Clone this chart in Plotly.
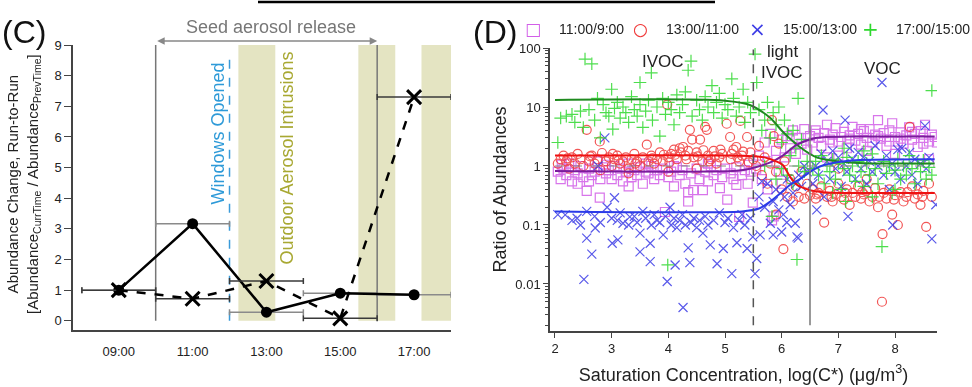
import plotly.graph_objects as go

FONT = "Liberation Sans, Arial, sans-serif"

# ---------------- Panel C data ----------------
times = [9, 11, 13, 15, 17]
time_labels = ["09:00", "11:00", "13:00", "15:00", "17:00"]
solid_change = [1.0, 3.17, 0.28, 0.90, 0.85]
dashed_change = [1.0, 0.72, 1.30, 0.08, 7.30]
run_halfwidth = [1, 1, 1, 1, 1]
intrusion_windows = [(12.24, 13.24), (15.49, 16.49), (17.2, 18.0)]
seed_release = (10, 16)
windows_opened = 12

# ---------------- Panel D data ----------------
pts_11_9 = [(2.05,0.8),(2.1,0.6),(2.15,0.9),(2.2,0.7),(2.25,1.1),(2.3,0.55),(2.35,0.85),(2.4,0.75),(2.45,1.0),(2.5,0.65),
    (2.56,0.38),(2.6,0.9),(2.65,0.7),(2.7,0.8),(2.75,1.2),(2.79,0.29),(2.8,0.6),(2.85,0.95),(2.9,0.75),(2.95,0.85),
    (3.0,0.6),(3.05,1.0),(3.1,0.7),(3.15,0.9),(3.2,0.55),(3.25,0.8),(3.3,1.1),(3.35,0.65),(3.4,0.85),(3.45,0.7),
    (3.5,0.95),(3.55,0.5),(3.6,0.8),(3.65,0.75),(3.7,1.0),(3.75,0.6),(3.8,0.85),(3.85,0.7),(3.9,0.9),(3.94,0.166),
    (4.0,0.65),(4.05,0.8),(4.1,0.45),(4.15,0.95),(4.2,0.7),(4.25,0.85),(4.3,0.5),(4.35,0.25),(4.35,0.36),(4.4,0.75),
    (4.44,0.39),(4.5,0.9),(4.55,0.6),(4.61,0.39),(4.65,0.8),(4.7,0.55),(4.75,1.0),(4.8,0.7),(4.85,0.85),(4.91,0.42),
    (4.95,0.65),(5.0,0.9),(5.04,0.27),(5.1,0.75),(5.15,0.6),(5.2,0.95),(5.25,0.137),(5.3,0.7),(5.35,0.85),(5.4,0.5),
    (5.45,0.8),(5.49,0.24),
    (5.55,0.9),(5.6,1.5),(5.65,0.6),(5.7,2.5),(5.75,1.2),(5.8,3.5),(5.83,0.12),(5.86,0.14),(5.9,1.8),(5.95,0.8),
    (6.0,2.8),(6.05,1.4),(6.1,3.2),(6.15,2.0),(6.2,4.0),(6.25,1.6),(6.3,3.0),(6.35,2.4),(6.4,4.2),(6.45,1.9),(5.75,0.4),(6.0,0.5),
    (6.5,3.2),(6.55,2.5),(6.6,4.0),(6.65,3.0),(6.7,2.2),(6.75,3.6),(6.8,5.0),(6.85,2.8),(6.9,3.4),(6.95,4.4),
    (7.0,2.6),(7.05,3.1),(7.1,3.8),(7.15,2.0),(7.2,3.3),(7.25,4.6),(7.3,2.7),(7.35,3.5),(7.4,2.3),(7.45,3.9),
    (7.5,3.0),(7.55,4.2),(7.6,2.5),(7.65,3.4),(7.7,6.0),(7.75,2.9),(7.8,3.6),(7.85,2.2),(7.9,4.0),(7.95,5.3),
    (8.0,3.1),(8.05,2.6),(8.1,3.7),(8.15,2.4),(8.2,3.3),(8.25,4.5),(8.3,2.8),(8.35,3.5),(8.4,2.1),(8.45,3.9),
    (8.5,3.0),(8.53,5.0),(8.6,2.6),(8.65,3.4),(8.74,2.5),(7.0,1.5),(7.5,1.8),(8.0,1.6),(6.8,1.4),(8.6,1.3),
    (2.12,1.05),(2.4,0.5),(2.9,1.05),(3.3,0.45),(3.6,1.1),(4.1,1.0),(4.7,1.1),(5.2,0.48),(5.42,1.05),(2.6,0.55),
    (6.6,3.5),(6.9,2.5),(7.2,2.9),(7.4,4.2),(7.7,3.2),(7.9,2.6),(8.1,2.9),(8.3,3.8),(8.5,2.4),(8.7,3.1)]

pts_13_11 = [(2.05,1.1),(2.1,1.3),(2.15,1.5),(2.2,1.2),(2.25,0.9),(2.3,1.4),(2.35,1.1),(2.4,1.6),(2.45,1.3),(2.5,1.0),
    (2.56,4.1),(2.6,1.2),(2.65,1.5),(2.7,1.1),(2.75,1.3),(2.79,2.6),(2.83,1.66),(2.9,1.2),(2.95,1.4),(3.0,1.0),
    (3.05,1.3),(3.1,1.5),(3.15,1.1),(3.2,1.2),(3.25,1.4),(3.3,0.9),(3.35,1.3),(3.4,1.6),(3.45,1.2),(3.5,1.0),
    (3.55,1.4),(3.62,2.3),(3.65,1.2),(3.7,1.5),(3.75,1.1),(3.8,1.3),(3.85,1.7),(3.9,1.2),(3.98,11),(4.0,1.4),
    (4.05,1.6),(4.1,1.9),(4.15,1.3),(4.2,2.0),(4.26,2.1),(4.3,1.5),(4.35,1.8),(4.38,4.1),(4.42,2.8),(4.45,1.4),
    (4.5,1.7),(4.56,2.8),(4.6,1.2),(4.65,4.6),(4.68,4.1),(4.7,1.5),(4.75,1.3),(4.8,1.8),(4.85,1.1),(4.9,1.4),
    (4.95,1.6),(5.03,5.2),(5.09,3.1),(5.1,1.3),(5.15,1.9),(5.2,2.1),(5.25,1.2),(5.27,5.8),(5.3,1.5),(5.39,3.1),
    (5.45,1.7),(5.5,1.3),(3.3,0.75),(4.0,0.8),(4.5,0.9),(2.8,0.85),
    (2.22,1.35),(2.62,1.45),(3.12,1.25),(3.42,1.1),(3.72,1.35),(4.12,1.55),(4.22,1.7),(4.32,1.3),(4.52,1.45),(4.62,1.85),
    (4.72,1.2),(4.82,1.45),(4.92,1.9),(5.12,1.6),(5.22,1.4),(5.32,1.75),(5.42,1.15),(4.02,1.15),(3.92,1.55),(3.02,1.6),
    (5.55,1.0),(5.6,2.2),(5.65,0.7),(5.7,1.4),(5.75,0.5),(5.8,1.1),(5.83,6.0),(5.86,3.2),(5.9,0.15),(5.9,0.8),
    (5.95,2.4),(6.0,0.4),(6.03,0.039),(6.05,1.2),(6.1,0.3),(6.15,0.6),(6.2,0.25),(6.25,0.45),(6.3,0.3),(6.35,0.8),
    (6.4,0.28),(6.45,0.5),
    (6.5,0.32),(6.55,0.4),(6.6,0.28),(6.65,0.35),(6.7,0.45),(6.75,0.11),(6.8,0.3),(6.85,0.38),(6.9,0.25),(6.95,0.33),
    (7.0,0.5),(7.05,0.3),(7.1,0.27),(7.15,0.4),(7.2,0.22),(7.25,0.35),(7.3,0.3),(7.35,0.45),(7.4,0.28),(7.45,0.33),
    (7.5,0.38),(7.55,0.25),(7.6,0.3),(7.65,0.42),(7.7,0.2),(7.77,0.005),(7.78,0.07),(7.8,0.35),(7.85,0.28),(7.9,0.4),
    (7.95,0.15),(8.0,0.32),(8.05,0.1),(8.1,0.36),(8.15,0.25),(8.2,0.3),(8.26,4.6),(8.3,0.45),(8.35,0.28),(8.4,0.33),
    (8.45,0.22),(8.5,0.38),(8.55,0.093),(8.6,0.5),(8.65,0.3),(7.0,0.9),(7.5,0.6),
    (6.62,0.33),(6.88,0.3),(7.12,0.35),(7.42,0.36),(7.72,0.3),(7.98,0.27),(8.22,0.36),(8.48,0.3)]

pts_15_13 = [(2.18,0.148),(2.39,0.13),(2.56,0.17),(2.56,0.06),(2.65,0.032),(2.51,0.012),(2.71,0.089),(2.92,0.2),
    (3.01,0.049),(3.11,0.056),(3.2,0.107),(3.32,0.137),(3.5,0.073),(3.5,0.035),(3.68,0.049),(3.68,0.024),(3.8,0.12),
    (3.91,0.068),(3.98,0.011),(4.03,0.2),(4.12,0.021),(4.26,0.004),(4.35,0.041),(4.38,0.023),(4.61,0.073),(4.74,0.046),
    (4.86,0.022),(4.97,0.04),(5.12,0.015),(5.21,0.05),(5.39,0.04),(5.53,0.015),(5.56,0.027),(5.49,0.063),
    (2.05,0.15),(2.3,0.12),(2.45,0.1),(2.7,0.14),(2.8,0.11),(3.0,0.13),(3.05,0.29),(3.1,0.12),(3.15,0.16),(3.3,0.1),
    (3.4,0.14),(3.45,0.11),(3.55,0.17),(3.6,0.13),(3.7,0.1),(3.75,0.15),(3.85,0.11),(3.95,0.14),(4.05,0.1),(4.1,0.13),
    (4.15,0.09),(4.2,0.12),(4.25,0.15),(4.3,0.1),(4.4,0.11),(4.45,0.13),(4.5,0.09),(4.55,0.12),(4.65,0.14),(4.7,0.1),
    (4.8,0.12),(4.9,0.16),(5.0,0.11),(5.05,0.13),(5.15,0.09),(5.25,0.12),(5.3,0.15),(5.35,0.1),(5.45,0.13),(2.88,3.0),
    (2.76,1.0),
    (5.6,0.3),(5.7,0.2),(5.75,0.5),(5.8,0.107),(5.85,0.25),(5.9,0.4),(5.95,0.18),(6.0,0.076),(6.05,0.3),(6.09,0.11),
    (6.1,0.6),(6.15,0.22),(6.2,0.35),(6.24,0.107),(6.25,0.5),(6.27,0.063),(6.29,0.06),(6.35,0.45),(6.45,0.8),(5.65,0.55),
    (6.03,0.15),(5.62,0.068),(5.85,0.068),
    (6.55,0.5),(6.6,1.0),(6.65,0.7),(6.7,1.6),(6.73,8.9),(6.75,0.3),(6.8,1.2),(6.85,0.6),(6.9,1.8),(6.95,0.9),
    (7.0,1.4),(7.05,0.45),(7.1,1.1),(7.12,6.0),(7.15,0.8),(7.2,2.0),(7.25,1.3),(7.3,0.6),(7.35,1.7),(7.4,0.9),
    (7.44,1.4),(7.5,0.5),(7.55,1.2),(7.6,0.8),(7.65,2.2),(7.7,1.0),(7.77,26),(7.8,0.7),(7.85,1.5),(7.9,0.4),
    (7.95,1.1),(8.0,0.8),(8.05,1.9),(8.1,0.6),(8.12,2.0),(8.2,1.0),(8.26,1.7),(8.3,0.7),(8.35,1.3),(8.4,0.5),
    (8.45,1.1),(8.53,4.8),(8.55,0.9),(8.6,1.4),(8.65,0.058),(8.72,0.22),(7.17,0.14),(7.96,0.1),(6.62,0.18),(6.3,0.7),(6.4,1.0)]

pts_17_15 = [(2.05,2.5),(2.1,6.5),(2.2,7.0),(2.3,7.5),(2.35,5.5),(2.45,8.5),(2.5,4.5),(2.53,65),(2.6,9.0),(2.65,54),
    (2.7,6.0),(2.75,14),(2.8,3.0),(2.85,11),(2.9,8.0),(2.95,7),(3.0,20),(3.02,4.2),(3.05,9.5),(3.1,12),
    (3.15,6.5),(3.2,10),(3.25,8),(3.3,5.5),(3.35,15),(3.4,9),(3.45,7),(3.5,26),(3.5,11),(3.55,4.5),
    (3.6,8.5),(3.65,13),(3.7,38),(3.72,6),(3.8,10),(3.85,3.2),(3.9,14),(3.95,7.5),(4.0,12),(4.05,9),
    (4.1,5),(4.15,16),(4.2,8),(4.25,11),(4.3,18),(4.35,42),(4.4,60),(4.42,7),(4.5,13),(4.55,9),
    (4.6,6),(4.65,15),(4.7,10),(4.77,23),(4.8,8),(4.85,12),(4.9,17),(4.95,6.5),(5.0,11),(5.05,9),
    (5.12,30),(5.15,14),(5.2,7),(5.25,10),(5.32,20),(5.35,5.5),(5.4,12),(5.45,8),(5.56,26),(5.53,79),
    (5.6,9),(5.65,4),(5.7,6),(5.75,12),(5.8,3),(5.85,8),(5.9,5),(5.95,10),(6.0,2.5),(6.05,6),
    (6.1,3.5),(6.15,1.5),(6.2,4),(6.25,2),(6.29,14),(6.3,1.0),(6.35,2.8),(6.4,0.8),(6.45,1.2),(5.83,0.14),
    (6.27,0.026),(5.9,0.6),(6.0,0.9),(6.1,0.7),(5.7,1.0),(6.2,0.5),(3.99,0.021),
    (6.55,0.9),(6.6,1.2),(6.65,0.7),(6.7,1.5),(6.75,0.5),(6.8,1.0),(6.85,0.8),(6.9,1.3),(6.95,0.6),(7.0,1.1),
    (7.05,0.4),(7.1,0.9),(7.13,0.25),(7.15,1.4),(7.2,0.7),(7.25,1.0),(7.3,0.55),(7.35,1.2),(7.4,0.8),(7.45,0.45),
    (7.5,1.1),(7.55,0.7),(7.6,1.6),(7.65,0.9),(7.7,0.5),(7.77,0.043),(7.8,1.2),(7.85,0.75),(7.9,1.0),(7.95,0.35),
    (8.0,0.85),(8.05,1.3),(8.1,0.6),(8.15,1.0),(8.2,0.7),(8.25,1.5),(8.3,0.9),(8.35,0.5),(8.4,1.1),(8.45,0.8),
    (8.5,1.25),(8.55,0.6),(8.6,0.95),(8.65,19),(8.65,0.7),(7.1,2.0),(7.45,1.8),(8.0,0.4),(6.9,0.35),(7.6,0.3)]

# fitted curves
fit_11_9_x = [2.0, 5.2, 5.44, 5.8, 6.02, 6.27, 6.62, 7.2, 8.7]
fit_11_9_y = [0.82, 0.83, 0.9, 1.15, 1.5, 2.3, 3.0, 3.15, 3.15]
fit_13_11_x = [2.0, 5.4, 5.7, 5.9, 6.02, 6.15, 6.27, 6.5, 6.73, 8.7]
fit_13_11_y = [1.5, 1.48, 1.4, 1.2, 1.04, 0.65, 0.48, 0.39, 0.36, 0.35]
fit_15_13_x = [2.0, 5.3, 5.6, 5.8, 6.0, 6.15, 6.32, 6.62, 6.9, 7.3, 8.7]
fit_15_13_y = [0.17, 0.17, 0.19, 0.25, 0.36, 0.48, 0.6, 0.93, 1.12, 1.25, 1.3]
fit_17_15_x = [2.0, 5.0, 5.44, 5.8, 6.02, 6.32, 6.62, 7.2, 8.7]
fit_17_15_y = [13.2, 12.8, 10.8, 6.5, 3.8, 2.1, 1.4, 1.15, 1.1]

series_names = ["11:00/9:00", "13:00/11:00", "15:00/13:00", "17:00/15:00"]
legend_glyphs = ["□", "○", "×", "+"]
ivoc_boundary = 5.5
voc_boundary = 6.5

fig = go.Figure()

# ---------- Panel C ----------
AXC = dict(xaxis="x", yaxis="y")
fig.add_trace(go.Scatter(x=times, y=solid_change, mode="lines+markers", showlegend=False,
                         line=dict(color="black", width=2.5),
                         marker=dict(symbol="circle", size=11, color="black"),
                         error_x=dict(type="data", array=run_halfwidth, color="#8a8a8a", thickness=1.5, width=3),
                         **AXC))
fig.add_trace(go.Scatter(x=times, y=dashed_change, mode="lines+markers", showlegend=False,
                         line=dict(color="black", width=2.5, dash="dash"),
                         marker=dict(symbol="x-thin", size=14, line=dict(width=3, color="black")),
                         error_x=dict(type="data", array=run_halfwidth, color="#3a3a3a", thickness=1.5, width=3),
                         **AXC))

shapes = []
for x0, x1 in intrusion_windows:
    shapes.append(dict(type="rect", xref="x", yref="y", x0=x0, x1=x1, y0=0, y1=9,
                       fillcolor="#e4e4c2", line=dict(width=0), layer="below"))
for xv in seed_release:
    shapes.append(dict(type="line", xref="x", yref="y", x0=xv, x1=xv, y0=0, y1=9,
                       line=dict(color="#777777", width=1.5), layer="below"))
shapes.append(dict(type="line", xref="x", yref="y", x0=windows_opened, x1=windows_opened, y0=0, y1=8.67,
                   line=dict(color="#3a9ad9", width=1.5, dash="dash"), layer="below"))
# top black rule
shapes.append(dict(type="line", xref="paper", yref="paper", x0=258/972, x1=715/972, y0=1-2/387, y1=1-2/387,
                   line=dict(color="black", width=2.5)))

# ---------- Panel D ----------
AXD = dict(xaxis="x2", yaxis="y2")
styles = [
    dict(symbol="square-open", color="#d25ee8"),
    dict(symbol="circle-open", color="#f03838"),
    dict(symbol="x-thin-open", color="#3c3ce6"),
    dict(symbol="cross-thin-open", color="#2ed82e"),
]
for name, pts, st in zip(series_names, [pts_11_9, pts_13_11, pts_15_13, pts_17_15], styles):
    fig.add_trace(go.Scatter(x=[p[0] for p in pts], y=[p[1] for p in pts], mode="markers", name=name,
                             showlegend=False,
                             marker=dict(symbol=st["symbol"], size=9, color=st["color"],
                                         line=dict(width=1.2, color=st["color"])),
                             opacity=0.85, **AXD))

fig.add_trace(go.Scatter(x=[2.0, 8.7], y=[1, 1], mode="lines", showlegend=False,
                         line=dict(color="#888888", width=1.2, dash="dash"), **AXD))
fits = [(fit_17_15_x, fit_17_15_y, "#1f8a1f"), (fit_11_9_x, fit_11_9_y, "#7a1c9c"),
        (fit_13_11_x, fit_13_11_y, "#ee1111"), (fit_15_13_x, fit_15_13_y, "#2a3ae8")]
for fx, fy, c in fits:
    fig.add_trace(go.Scatter(x=fx, y=fy, mode="lines", showlegend=False,
                             line=dict(color=c, width=2, shape="spline", smoothing=0.8), **AXD))

shapes.append(dict(type="line", xref="x2", yref="y2 domain", x0=ivoc_boundary, x1=ivoc_boundary, y0=0.02, y1=0.995,
                   line=dict(color="#555555", width=1.5, dash="dash")))
shapes.append(dict(type="line", xref="x2", yref="y2 domain", x0=voc_boundary, x1=voc_boundary, y0=0.02, y1=1.0,
                   line=dict(color="#777777", width=1.5)))

axline = dict(showline=True, linecolor="#444444", linewidth=1.5, showgrid=False, zeroline=False,
              automargin=False,
              tickfont=dict(family=FONT, size=13, color="#222222"), tickcolor="#444444")

fig.update_layout(
    width=972, height=387, margin=dict(l=0, r=0, t=0, b=0, autoexpand=False),
    paper_bgcolor="white", plot_bgcolor="white",
    font=dict(family=FONT, color="#222222"),
    shapes=shapes, showlegend=False,
    xaxis=dict(domain=[73/972, 451/972], range=[7.76, 18.0], tickvals=times, ticktext=time_labels,
               ticks="", ticklabelstandoff=9, anchor="y", **axline),
    yaxis=dict(domain=[1-330/387, 1-45/387], range=[-0.3, 9], dtick=1, ticks="outside", ticklen=7,
               anchor="x", **axline),
    xaxis2=dict(domain=[550/972, 937/972], range=[1.912, 8.741], dtick=1, ticks="outside", ticklen=5,
                anchor="y2",
                title=dict(text="Saturation Concentration, log(C*) (μg/m<sup>3</sup>)",
                           font=dict(family=FONT, size=18, color="#222222"), standoff=13),
                **axline),
    yaxis2=dict(domain=[1-331/387, 1-48/387], type="log", range=[-2.797, 2.0], dtick=1,
                ticks="outside", ticklen=5, anchor="x2",
                minor=dict(ticks="outside", ticklen=3, tickcolor="#444444", dtick="D1"),
                title=dict(text="Ratio of Abundances", font=dict(family=FONT, size=18, color="#222222"), standoff=4),
                **axline),
)

ann = []
ann.append(dict(x=seed_release[1], y=1-41/387, ax=seed_release[0], ay=0, xref="x", yref="paper", axref="x",
                text="", showarrow=True, arrowhead=2, arrowside="end+start", arrowsize=1, arrowwidth=1.5,
                arrowcolor="#888888"))
ann.append(dict(x=271/972, y=1-27/387, xref="paper", yref="paper", xanchor="center", yanchor="middle",
                text="Seed aerosol release", showarrow=False,
                font=dict(family=FONT, size=18, color="#777777")))
ann.append(dict(x=11.68, y=6.1, xref="x", yref="y", xanchor="center", yanchor="middle",
                text="Windows Opened", textangle=-90, showarrow=False,
                font=dict(family=FONT, size=18, color="#2e9ad8")))
ann.append(dict(x=13.57, y=5.31, xref="x", yref="y", xanchor="center", yanchor="middle",
                text="Outdoor Aerosol Intrusions", textangle=-90, showarrow=False,
                font=dict(family=FONT, size=18, color="#a8a832")))
ann.append(dict(x=0.0, y=1-32/387, xref="paper", yref="paper", xanchor="left", yanchor="middle",
                text="(C)", showarrow=False, font=dict(family=FONT, size=32, color="#111111")))
ann.append(dict(x=471/972, y=1-32/387, xref="paper", yref="paper", xanchor="left", yanchor="middle",
                text="(D)", showarrow=False, font=dict(family=FONT, size=32, color="#111111")))
ann.append(dict(x=23/972, y=1-184/387, xref="paper", yref="paper", xanchor="center", yanchor="middle",
                textangle=-90, showarrow=False,
                text="Abundance Change, Run-to-Run<br>[Abundance<sub>CurrTime</sub> / Abundance<sub>PrevTime</sub>]",
                font=dict(family=FONT, size=15, color="#222222")))
for txt, px, py in [("IVOC", 663, 62), ("light", 782, 52), ("IVOC", 782, 73), ("VOC", 882, 68)]:
    ann.append(dict(x=px/972, y=1-py/387, xref="paper", yref="paper", xanchor="center", yanchor="middle",
                    text=txt, showarrow=False, font=dict(family=FONT, size=17, color="#222222")))

# legend row drawn as text (symbol glyph + series name)
legend_sym_px = [533, 640, 757, 870]
glyph_sizes = [17, 17, 20, 20]
for name, glyph, st, sx, gs in zip(series_names, legend_glyphs, styles, legend_sym_px, glyph_sizes):
    ann.append(dict(x=sx/972, y=1-29/387, xref="paper", yref="paper", xanchor="center", yanchor="middle",
                    text=glyph, showarrow=False,
                    font=dict(family="DejaVu Sans, sans-serif", size=gs, color=st["color"])))
    ann.append(dict(x=(sx + 24)/972, y=1-29/387, xref="paper", yref="paper", xanchor="left", yanchor="middle",
                    text=name, showarrow=False, font=dict(family=FONT, size=14, color="#222222")))
fig.update_layout(annotations=ann)

fig.write_html("out.html")
